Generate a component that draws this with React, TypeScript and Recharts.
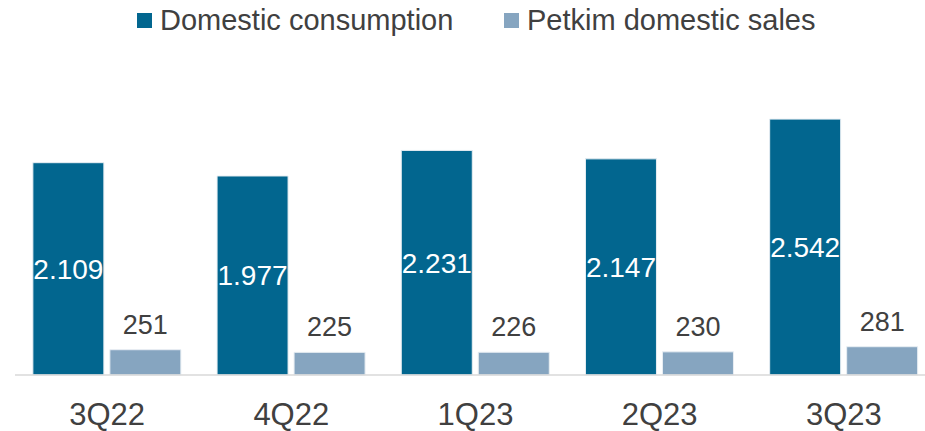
import React from "react";
import { BarChart, Bar, XAxis, YAxis, Legend, LabelList } from "recharts";

const categories = ["3Q22", "4Q22", "1Q23", "2Q23", "3Q23"];
const domesticConsumption = [2109, 1977, 2231, 2147, 2542];
const petkimDomesticSales = [251, 225, 226, 230, 281];
const seriesNames = ["Domestic consumption", "Petkim domestic sales"];

const DARK = "#02668F";
const LIGHT = "#86A5C0";
const TEXT = "#404040";
const FONT = "'Liberation Sans', Arial, sans-serif";

const data = categories.map((c, i) => ({
  name: c,
  dc: domesticConsumption[i],
  pk: petkimDomesticSales[i],
}));

const fmt = (v: any) => {
  const n = Number(v);
  return n.toLocaleString("de-DE");
};

const legendItems = [
  { name: seriesNames[0], color: DARK, left: 137 },
  { name: seriesNames[1], color: LIGHT, left: 504 },
];

const LegendContent = () => (
  <div
    style={{
      position: "relative",
      height: 40,
      width: 925,
      fontFamily: FONT,
      fontSize: 29,
      lineHeight: "33px",
      color: TEXT,
    }}
  >
    {legendItems.map((it) => (
      <div
        key={it.name}
        style={{
          position: "absolute",
          left: it.left,
          top: 4,
          display: "flex",
          alignItems: "center",
          whiteSpace: "nowrap",
        }}
      >
        <span
          style={{
            width: 15,
            height: 15,
            background: it.color,
            display: "inline-block",
            marginRight: 8,
          }}
        />
        <span>{it.name}</span>
      </div>
    ))}
  </div>
);

export default function App() {
  return (
    <div
      style={{
        position: "absolute",
        left: 0,
        top: 0,
        width: 925,
        height: 431,
        overflow: "hidden",
        background: "#ffffff",
      }}
    >
      <BarChart
        width={940}
        height={431}
        data={data}
        margin={{ top: 33, right: 4, bottom: 0, left: 15 }}
        barCategoryGap="9.7%"
        barGap={6}
      >
        <Legend
          verticalAlign="top"
          align="left"
          content={<LegendContent />}
          wrapperStyle={{ top: 0, left: 0, width: 925, height: 40 }}
        />
        <XAxis
          dataKey="name"
          height={56}
          tickLine={false}
          tickSize={0}
          tickMargin={28}
          axisLine={{ stroke: "#D9D9D9", strokeWidth: 1.5 }}
          tick={{ fill: TEXT, fontSize: 31, fontFamily: FONT }}
          interval={0}
        />
        <YAxis hide domain={[0, 3000]} />
        <Bar dataKey="dc" name={seriesNames[0]} fill={DARK} stroke="#E8EEF3" strokeWidth={1} isAnimationActive={false}>
          <LabelList
            dataKey="dc"
            position="center"
            formatter={fmt}
            style={{ fill: "#ffffff", fontSize: 28, fontFamily: FONT }}
          />
        </Bar>
        <Bar dataKey="pk" name={seriesNames[1]} fill={LIGHT} stroke="#E8EEF3" strokeWidth={1} isAnimationActive={false}>
          <LabelList
            dataKey="pk"
            position="top"
            offset={16}
            formatter={fmt}
            style={{ fill: TEXT, fontSize: 27, fontFamily: FONT }}
          />
        </Bar>
      </BarChart>
    </div>
  );
}
